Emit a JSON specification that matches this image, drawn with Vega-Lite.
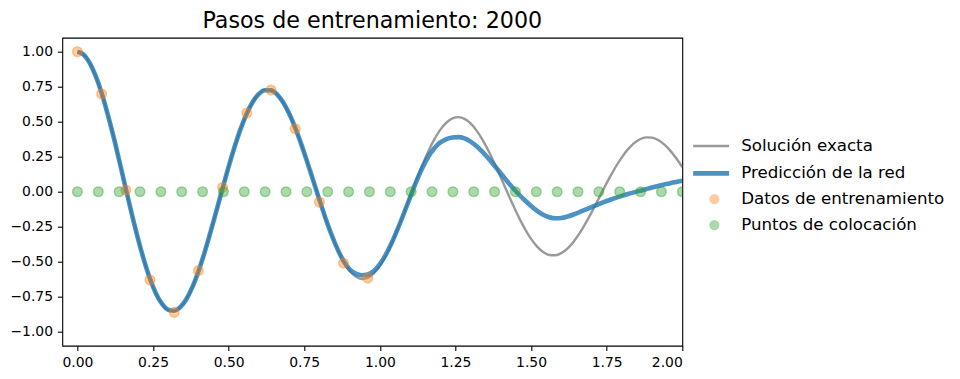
{
  "$schema": "https://vega.github.io/schema/vega-lite/v6.json",
  "width": 620,
  "height": 308,
  "autosize": {"type": "none"},
  "padding": {"left": 62.3, "top": 37.7, "right": 277.7, "bottom": 33.3},
  "title": {"text": "Pasos de entrenamiento: 2000", "fontSize": 22.2, "fontWeight": "normal", "color": "#000000", "anchor": "middle", "frame": "group", "baseline": "alphabetic", "offset": -12.1, "font": "DejaVu Sans"},
  "datasets": {
    "exacta": [
      {"t":0.00,"y":1.0000},{"t":0.02,"y":0.9802},{"t":0.04,"y":0.9221},{"t":0.06,"y":0.8287},{"t":0.08,"y":0.7046},{"t":0.10,"y":0.5544},{"t":0.12,"y":0.3879},{"t":0.14,"y":0.2061},{"t":0.16,"y":0.0211},{"t":0.18,"y":-0.1610},
      {"t":0.20,"y":-0.3332},{"t":0.22,"y":-0.4888},{"t":0.24,"y":-0.6221},{"t":0.26,"y":-0.7283},{"t":0.28,"y":-0.8033},{"t":0.30,"y":-0.8454},{"t":0.32,"y":-0.8532},{"t":0.34,"y":-0.8272},{"t":0.36,"y":-0.7690},{"t":0.38,"y":-0.6819},
      {"t":0.40,"y":-0.5693},{"t":0.42,"y":-0.4365},{"t":0.44,"y":-0.2891},{"t":0.46,"y":-0.1333},{"t":0.48,"y":0.0247},{"t":0.50,"y":0.1786},{"t":0.52,"y":0.3225},{"t":0.54,"y":0.4507},{"t":0.56,"y":0.5586},{"t":0.58,"y":0.6423},
      {"t":0.60,"y":0.6991},{"t":0.62,"y":0.7270},{"t":0.64,"y":0.7258},{"t":0.66,"y":0.6959},{"t":0.68,"y":0.6389},{"t":0.70,"y":0.5587},{"t":0.72,"y":0.4577},{"t":0.74,"y":0.3398},{"t":0.76,"y":0.2114},{"t":0.78,"y":0.0772},
      {"t":0.80,"y":-0.0574},{"t":0.82,"y":-0.1871},{"t":0.84,"y":-0.3068},{"t":0.86,"y":-0.4118},{"t":0.88,"y":-0.4989},{"t":0.90,"y":-0.5644},{"t":0.92,"y":-0.6063},{"t":0.94,"y":-0.6234},{"t":0.96,"y":-0.6156},{"t":0.98,"y":-0.5837},
      {"t":1.00,"y":-0.5295},{"t":1.02,"y":-0.4560},{"t":1.04,"y":-0.3646},{"t":1.06,"y":-0.2614},{"t":1.08,"y":-0.1510},{"t":1.10,"y":-0.0345},{"t":1.12,"y":0.0797},{"t":1.14,"y":0.1886},{"t":1.16,"y":0.2879},{"t":1.18,"y":0.3739},
      {"t":1.20,"y":0.4435},{"t":1.22,"y":0.4939},{"t":1.24,"y":0.5242},{"t":1.26,"y":0.5330},{"t":1.28,"y":0.5206},{"t":1.30,"y":0.4879},{"t":1.32,"y":0.4363},{"t":1.34,"y":0.3691},{"t":1.36,"y":0.2887},{"t":1.38,"y":0.1981},
      {"t":1.40,"y":0.1014},{"t":1.42,"y":0.0028},{"t":1.44,"y":-0.0940},{"t":1.46,"y":-0.1852},{"t":1.48,"y":-0.2672},{"t":1.50,"y":-0.3371},{"t":1.52,"y":-0.3922},{"t":1.54,"y":-0.4309},{"t":1.56,"y":-0.4517},{"t":1.58,"y":-0.4543},
      {"t":1.60,"y":-0.4390},{"t":1.62,"y":-0.4067},{"t":1.64,"y":-0.3588},{"t":1.66,"y":-0.2978},{"t":1.68,"y":-0.2262},{"t":1.70,"y":-0.1474},{"t":1.72,"y":-0.0638},{"t":1.74,"y":0.0204},{"t":1.76,"y":0.1021},{"t":1.78,"y":0.1782},
      {"t":1.80,"y":0.2456},{"t":1.82,"y":0.3021},{"t":1.84,"y":0.3457},{"t":1.86,"y":0.3745},{"t":1.88,"y":0.3881},{"t":1.90,"y":0.3861},{"t":1.92,"y":0.3690},{"t":1.94,"y":0.3377},{"t":1.96,"y":0.2936},{"t":1.98,"y":0.2389},
      {"t":2.00,"y":0.1753}
    ],
    "red": [
      {"t":0.00,"y":1.0000},{"t":0.02,"y":0.9802},{"t":0.04,"y":0.9221},{"t":0.06,"y":0.8287},{"t":0.08,"y":0.7046},{"t":0.10,"y":0.5544},{"t":0.12,"y":0.3879},{"t":0.14,"y":0.2061},{"t":0.16,"y":0.0211},{"t":0.18,"y":-0.1610},
      {"t":0.20,"y":-0.3332},{"t":0.22,"y":-0.4888},{"t":0.24,"y":-0.6221},{"t":0.26,"y":-0.7283},{"t":0.28,"y":-0.8020},{"t":0.30,"y":-0.8430},{"t":0.32,"y":-0.8500},{"t":0.34,"y":-0.8250},{"t":0.36,"y":-0.7680},{"t":0.38,"y":-0.6819},
      {"t":0.40,"y":-0.5693},{"t":0.42,"y":-0.4365},{"t":0.44,"y":-0.2891},{"t":0.46,"y":-0.1333},{"t":0.48,"y":0.0247},{"t":0.50,"y":0.1786},{"t":0.52,"y":0.3225},{"t":0.54,"y":0.4507},{"t":0.56,"y":0.5586},{"t":0.58,"y":0.6423},
      {"t":0.60,"y":0.6991},{"t":0.62,"y":0.7250},{"t":0.64,"y":0.7240},{"t":0.66,"y":0.6959},{"t":0.68,"y":0.6389},{"t":0.70,"y":0.5587},{"t":0.72,"y":0.4577},{"t":0.74,"y":0.3398},{"t":0.76,"y":0.2114},{"t":0.78,"y":0.0772},
      {"t":0.80,"y":-0.0574},{"t":0.82,"y":-0.1871},{"t":0.84,"y":-0.3060},{"t":0.86,"y":-0.4100},{"t":0.88,"y":-0.4950},{"t":0.90,"y":-0.5550},{"t":0.92,"y":-0.5850},{"t":0.94,"y":-0.5970},{"t":0.96,"y":-0.5920},{"t":0.98,"y":-0.5670},
      {"t":1.00,"y":-0.5180},{"t":1.02,"y":-0.4480},{"t":1.04,"y":-0.3610},{"t":1.06,"y":-0.2600},{"t":1.08,"y":-0.1520},{"t":1.10,"y":-0.0400},{"t":1.12,"y":0.0700},{"t":1.14,"y":0.1680},{"t":1.16,"y":0.2500},{"t":1.18,"y":0.3110},
      {"t":1.20,"y":0.3520},{"t":1.22,"y":0.3760},{"t":1.24,"y":0.3870},{"t":1.26,"y":0.3900},{"t":1.28,"y":0.3810},{"t":1.30,"y":0.3580},{"t":1.32,"y":0.3250},{"t":1.34,"y":0.2830},{"t":1.36,"y":0.2350},{"t":1.38,"y":0.1830},
      {"t":1.40,"y":0.1300},{"t":1.42,"y":0.0770},{"t":1.44,"y":0.0270},{"t":1.46,"y":-0.0200},{"t":1.48,"y":-0.0630},{"t":1.50,"y":-0.1020},{"t":1.52,"y":-0.1370},{"t":1.54,"y":-0.1650},{"t":1.56,"y":-0.1820},{"t":1.58,"y":-0.1900},
      {"t":1.60,"y":-0.1880},{"t":1.62,"y":-0.1780},{"t":1.64,"y":-0.1630},{"t":1.66,"y":-0.1460},{"t":1.68,"y":-0.1280},{"t":1.70,"y":-0.1100},{"t":1.72,"y":-0.0920},{"t":1.74,"y":-0.0750},{"t":1.76,"y":-0.0590},{"t":1.78,"y":-0.0440},
      {"t":1.80,"y":-0.0300},{"t":1.82,"y":-0.0170},{"t":1.84,"y":-0.0050},{"t":1.86,"y":0.0060},{"t":1.88,"y":0.0180},{"t":1.90,"y":0.0300},{"t":1.92,"y":0.0410},{"t":1.94,"y":0.0510},{"t":1.96,"y":0.0610},{"t":1.98,"y":0.0700},
      {"t":2.00,"y":0.0790}
    ],
    "entrenamiento": [
      {"t":0.00,"y":1.000},{"t":0.08,"y":0.698},{"t":0.16,"y":0.012},{"t":0.24,"y":-0.631},{"t":0.32,"y":-0.862},{"t":0.40,"y":-0.564},{"t":0.48,"y":0.031},
      {"t":0.56,"y":0.562},{"t":0.64,"y":0.726},{"t":0.72,"y":0.450},{"t":0.80,"y":-0.074},{"t":0.88,"y":-0.510},{"t":0.96,"y":-0.617}
    ],
    "colocacion": [
      {"t":0.0000,"y":0},{"t":0.0690,"y":0},{"t":0.1379,"y":0},{"t":0.2069,"y":0},{"t":0.2759,"y":0},{"t":0.3448,"y":0},{"t":0.4138,"y":0},{"t":0.4828,"y":0},{"t":0.5517,"y":0},{"t":0.6207,"y":0},
      {"t":0.6897,"y":0},{"t":0.7586,"y":0},{"t":0.8276,"y":0},{"t":0.8966,"y":0},{"t":0.9655,"y":0},{"t":1.0345,"y":0},{"t":1.1034,"y":0},{"t":1.1724,"y":0},{"t":1.2414,"y":0},{"t":1.3103,"y":0},
      {"t":1.3793,"y":0},{"t":1.4483,"y":0},{"t":1.5172,"y":0},{"t":1.5862,"y":0},{"t":1.6552,"y":0},{"t":1.7241,"y":0},{"t":1.7931,"y":0},{"t":1.8621,"y":0},{"t":1.9310,"y":0},{"t":2.0000,"y":0}
    ]
  },
  "encoding": {
    "x": {"field": "t", "type": "quantitative", "scale": {"domain": [-0.05, 2.0], "nice": false, "zero": false},
      "axis": {"title": null, "values": [0, 0.25, 0.5, 0.75, 1, 1.25, 1.5, 1.75, 2], "format": ".2f"}},
    "y": {"field": "y", "type": "quantitative", "scale": {"domain": [-1.1, 1.1], "nice": false, "zero": false},
      "axis": {"title": null, "values": [-1, -0.75, -0.5, -0.25, 0, 0.25, 0.5, 0.75, 1], "format": ".2f"}}
  },
  "layer": [
    {
      "data": {"name": "exacta"},
      "transform": [{"calculate": "'Solución exacta'", "as": "serie"}],
      "mark": {"type": "line", "opacity": 0.8, "clip": true, "interpolate": "monotone"},
      "encoding": {
        "stroke": {"field": "serie", "type": "nominal", "scale": {"domain": ["Solución exacta", "Predicción de la red"], "range": ["#808080", "#1f77b4"]},
          "legend": {"orient": "none", "legendX": 640.5, "legendY": 100, "title": null, "symbolType": "M-3.75,0H3.75", "symbolSize": 92, "labelOffset": 21.7, "rowPadding": 8.3, "symbolOpacity": 0.8}},
        "strokeWidth": {"field": "serie", "type": "nominal", "scale": {"domain": ["Solución exacta", "Predicción de la red"], "range": [2.4, 4.6]},
          "legend": {"orient": "none", "legendX": 640.5, "legendY": 100, "title": null, "symbolType": "M-3.75,0H3.75", "symbolSize": 92, "labelOffset": 21.7, "rowPadding": 8.3, "symbolOpacity": 0.8}}
      }
    },
    {
      "data": {"name": "red"},
      "transform": [{"calculate": "'Predicción de la red'", "as": "serie"}],
      "mark": {"type": "line", "opacity": 0.8, "clip": true, "interpolate": "monotone"},
      "encoding": {
        "stroke": {"field": "serie", "type": "nominal"},
        "strokeWidth": {"field": "serie", "type": "nominal"}
      }
    },
    {
      "data": {"name": "entrenamiento"},
      "transform": [{"calculate": "'Datos de entrenamiento'", "as": "serie"}],
      "mark": {"type": "circle", "size": 95, "opacity": 1, "fillOpacity": 0.4, "stroke": "#ff7f0e", "strokeOpacity": 0.4, "strokeWidth": 1.4, "clip": true},
      "encoding": {
        "fill": {"field": "serie", "type": "nominal", "scale": {"domain": ["Datos de entrenamiento", "Puntos de colocación"], "range": ["#ff7f0e", "#2ca02c"]},
          "legend": {"orient": "none", "legendX": 643.7, "legendY": 153, "title": null, "symbolType": "circle", "symbolSize": 105, "labelOffset": 18.5, "rowPadding": 8.0, "symbolOpacity": 0.4, "symbolStrokeWidth": 0}}
      }
    },
    {
      "data": {"name": "colocacion"},
      "transform": [{"calculate": "'Puntos de colocación'", "as": "serie"}],
      "mark": {"type": "circle", "size": 95, "opacity": 1, "fillOpacity": 0.4, "stroke": "#2ca02c", "strokeOpacity": 0.4, "strokeWidth": 1.4, "clip": true},
      "encoding": {
        "fill": {"field": "serie", "type": "nominal"}
      }
    }
  ],
  "config": {
    "font": "DejaVu Sans",
    "view": {"stroke": "#000000", "strokeWidth": 1.1},
    "axis": {"grid": false, "domain": false, "tickColor": "#000000", "tickWidth": 1.1, "tickSize": 4.9, "labelColor": "#000000", "labelFontSize": 13.9, "labelPadding": 4.9, "labelFont": "DejaVu Sans"},
    "legend": {"labelFontSize": 16.67, "labelColor": "#000000", "labelFont": "DejaVu Sans", "padding": 0, "labelLimit": 400}
  }
}
